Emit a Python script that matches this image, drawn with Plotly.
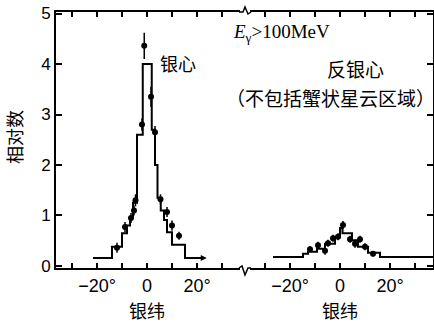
import plotly.graph_objects as go

# ---- data (galactic latitude in degrees, relative counts) ----
gc_edges = [-21.6, -14, -10, -8, -6.8, -5.6, -4, -1.7, 1.9, 3.2, 4.2, 5.5, 6.8, 8, 10, 15.2, 22.4]
gc_heights = [0.16, 0.38, 0.65, 0.8, 0.97, 1.25, 2.6, 4.0, 2.7, 2.0, 1.35, 1.1, 0.91, 0.67, 0.42, 0.16]
gc_pts_x = [-1.1, 1.6, 3.2, -2.0, -4.6, -5.2, -6.4, -8.8, -12.0, 5.4, 8.0, 10.0, 12.8]
gc_pts_y = [4.36, 3.35, 2.65, 2.8, 1.3, 1.1, 0.95, 0.77, 0.36, 1.32, 1.07, 0.8, 0.6]
gc_pts_err = [0.26, 0.2, 0.12, 0.12, 0.12, 0.1, 0.1, 0.1, 0.1, 0.1, 0.1, 0.1, 0.08]

ac_edges = [-26.8, -14.8, -12.8, -9.2, -6, -2, 0, 1, 4.8, 7.2, 11.2, 16, 37.2]
ac_heights = [0.18, 0.24, 0.28, 0.34, 0.44, 0.57, 0.75, 0.65, 0.51, 0.38, 0.26, 0.18]
ac_pts_x = [-12, -8.8, -6, -4.8, -2.8, -0.8, 1.2, 4, 6, 8, 10, 13.2]
ac_pts_y = [0.33, 0.41, 0.3, 0.45, 0.55, 0.58, 0.81, 0.53, 0.44, 0.53, 0.38, 0.24]
ac_pts_err = [0.06, 0.07, 0.08, 0.07, 0.07, 0.07, 0.08, 0.07, 0.08, 0.07, 0.07, 0.05]

x_tickvals = [-30, -20, -10, 0, 10, 20, 30]
x_ticktext = ["", "\u221220\u00b0", "", "0", "", "20\u00b0", ""]
y_tickvals = [0, 1, 2, 3, 4, 5]

CJK = "Noto Sans CJK SC"
W, H = 434, 322
ML, MR, MT, MB = 56, 1, 12, 54
PW, PH = W - ML - MR, H - MT - MB
SPLIT = (245 - ML) / PW


def px(xp):
    return (xp - ML) / PW


def py(yp):
    return (H - MB - yp) / PH


fig = go.Figure()

fig.add_trace(go.Scatter(x=gc_edges, y=gc_heights + [gc_heights[-1]], mode="lines",
                         line=dict(shape="hv", color="black", width=2),
                         xaxis="x", yaxis="y", showlegend=False))
fig.add_trace(go.Scatter(x=gc_pts_x, y=gc_pts_y, mode="markers",
                         marker=dict(color="black", size=6),
                         error_y=dict(type="data", array=gc_pts_err, color="black", thickness=1.5, width=0),
                         xaxis="x", yaxis="y", showlegend=False))
fig.add_trace(go.Scatter(x=ac_edges, y=ac_heights + [ac_heights[-1]], mode="lines",
                         line=dict(shape="hv", color="black", width=2),
                         xaxis="x2", yaxis="y2", showlegend=False))
fig.add_trace(go.Scatter(x=ac_pts_x, y=ac_pts_y, mode="markers",
                         marker=dict(color="black", size=6),
                         error_y=dict(type="data", array=ac_pts_err, color="black", thickness=1.5, width=0),
                         xaxis="x2", yaxis="y2", showlegend=False))

yrange = [-0.04, 5.03]
xcommon = dict(showline=True, linecolor="black", linewidth=2, mirror="ticks",
               ticks="inside", ticklen=5, tickwidth=1.5, tickcolor="black",
               tickvals=x_tickvals, ticktext=x_ticktext, showgrid=False, zeroline=False,
               automargin=False,
               tickfont=dict(family="Liberation Sans", size=18, color="black"))
fig.update_layout(
    width=W, height=H, autosize=False,
    margin=dict(l=ML, r=MR, t=MT, b=MB, pad=0, autoexpand=False),
    paper_bgcolor="white", plot_bgcolor="white",
    xaxis=dict(domain=[0, SPLIT], range=[-36.4, 39.2], anchor="y", **xcommon),
    xaxis2=dict(domain=[SPLIT, 1], range=[-38, 37.2], anchor="y2", **xcommon),
    yaxis=dict(domain=[0, 1], range=yrange, anchor="x", showline=True, linecolor="black",
               linewidth=2, ticks="inside", ticklen=6, tickwidth=2, tickcolor="black",
               tickvals=y_tickvals, showgrid=False, zeroline=False, automargin=False,
               tickfont=dict(family="Liberation Sans", size=17, color="black")),
    yaxis2=dict(domain=[0, 1], range=yrange, anchor="x2", side="right", showline=True,
                linecolor="black", linewidth=2, ticks="inside", ticklen=6, tickwidth=2,
                tickcolor="black", tickvals=y_tickvals, showticklabels=False,
                showgrid=False, zeroline=False, automargin=False),
)

# arrow at right end of galactic-centre histogram
fig.add_annotation(x=gc_edges[-1] + 1.5, y=gc_heights[-1], xref="x", yref="y", text="",
                   showarrow=True, ax=-10, ay=0, arrowhead=2, arrowsize=0.8,
                   arrowwidth=1.5, arrowcolor="black")

# axis-break marks
s = SPLIT
dx = 1 / PW
dy = 1 / PH
fig.add_shape(type="line", xref="paper", yref="paper", x0=s - 5 * dx, x1=s + 5 * dx,
              y0=0, y1=0, line=dict(color="white", width=4))
fig.add_shape(type="path", xref="paper", yref="paper",
              path=f"M {s-6*dx} 0 L {s-3*dx} {2*dy} L {s} {-7*dy} L {s+3*dx} 0 L {s+6*dx} 0",
              line=dict(color="black", width=1.5))
fig.add_shape(type="line", xref="paper", yref="paper", x0=s - 5 * dx, x1=s + 5 * dx,
              y0=1, y1=1, line=dict(color="white", width=4))
fig.add_shape(type="path", xref="paper", yref="paper",
              path=f"M {s-6*dx} 1 L {s-2*dx} 1 L {s} {1+5*dy} L {s+3*dx} {1-2*dy} L {s+6*dx} 1",
              line=dict(color="black", width=1.5))


def label(xp, yp, text, size, family=CJK, angle=0):
    fig.add_annotation(x=px(xp), y=py(yp), xref="paper", yref="paper", text=text,
                       showarrow=False, xanchor="center", yanchor="middle",
                       textangle=angle, font=dict(family=family, size=size, color="black"))


label(178, 63, "银心", 18)
label(281, 33, "<i>E</i><sub>γ</sub>&gt;100MeV", 19, family="Liberation Serif")
label(355, 68, "反银心", 19)
label(330, 97, "（不包括蟹状星云区域）", 19)
label(14, 137, "相对数", 18, angle=-90)
label(147, 310, "银纬", 18)
label(340, 310, "银纬", 18)

post = ("document.body.style.margin='0';document.body.style.overflow='hidden';"
        "var gd=document.getElementById('{plot_id}');"
        "Plotly.relayout(gd,{width:%d,height:%d});" % (W, H))
fig.write_html("out.html", config={"responsive": False, "displayModeBar": False},
               post_script=post)
